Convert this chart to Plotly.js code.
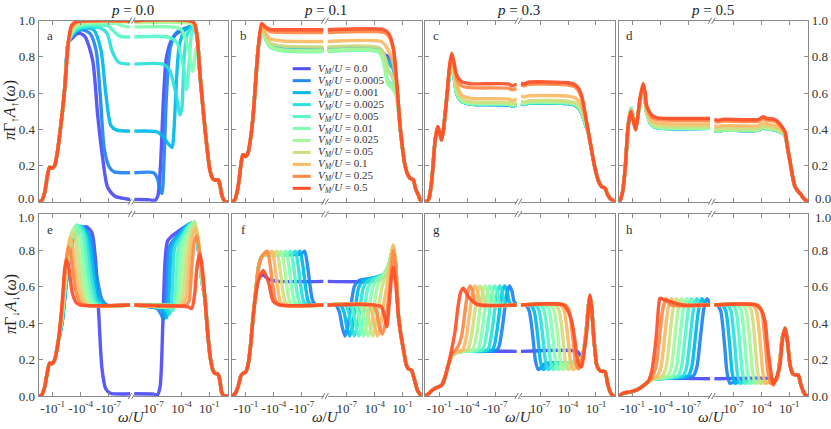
<!DOCTYPE html>
<html><head><meta charset="utf-8">
<script src="https://cdn.plot.ly/plotly-3.0.1.min.js"></script>
<style>html,body{margin:0;padding:0;background:#fff}#chart{width:831px;height:429px}</style>
</head><body><div id="chart"></div>
<script>
// ---- labels ----
const VM = ["0.0","0.0005","0.001","0.0025","0.005","0.01","0.025","0.05","0.1","0.25","0.5"];
const pValues = ["0.0","0.1","0.3","0.5"];
const panelLetters = ["a","b","c","d","e","f","g","h"];
const colors = ["#4d4ffc","#2489f5","#05baea","#2edfdc","#57f7c9","#80ffb4","#a8f79c","#d1df82","#faba65","#ff8947","#ff4f28"];
const xTickVals = [1e-1,1e-4,1e-7];
const xTickNeg = ["-10<sup>-1</sup>","-10<sup>-4</sup>","-10<sup>-7</sup>"];
const xTickPos = ["10<sup>-1</sup>","10<sup>-4</sup>","10<sup>-7</sup>"];
const yTicks = [0,0.2,0.4,0.6,0.8,1.0];
const yTickTextTop = ["","0.2","0.4","0.6","0.8","1.0"];
const yTickTextBottom = ["0.0","0.2","0.4","0.6","0.8",""];

// ---- data: pairs [log10|omega|, value]; L = omega<0 (outer->inner), R = omega>0 (inner->outer) ----
// panel a : p=0.0, spin up
const aEdgeL = [0.5,0, 0.18,0.005, -0.14,0.05, -0.46,0.15, -0.68,0.19, -0.95,0.185, -1.22,0.2, -1.5,0.27, -1.78,0.38, -2.05,0.5, -2.32,0.64, -2.68,0.88];
const aL = [
 [-3.04,0.9, -3.5,0.925, -3.94,0.93, -4.5,0.91, -5.3,0.78, -5.85,0.47, -6.4,0.23, -6.9,0.08, -7.7,0.03, -8.96,0.015, -9.33,0.012],
 [-3.04,0.91, -3.6,0.94, -4.2,0.95, -5.0,0.93, -5.65,0.84, -6.1,0.6, -6.55,0.29, -7.1,0.19, -7.6,0.165, -9.33,0.16],
 [-3.04,0.915, -3.6,0.945, -4.3,0.96, -5.4,0.95, -6.18,0.84, -6.7,0.6, -7.26,0.42, -7.9,0.395, -9.33,0.39],
 [-3.04,0.92, -3.6,0.95, -4.5,0.965, -6.1,0.96, -6.84,0.93, -7.4,0.83, -8.1,0.77, -9.33,0.76],
 [-3.04,0.925, -3.6,0.96, -5,0.975, -7.0,0.97, -7.6,0.94, -8.2,0.915, -9.33,0.91],
 [-3.04,0.93, -3.6,0.97, -5,0.985, -7.8,0.985, -8.5,0.972, -9.33,0.965],
 [-3.04,0.94, -3.6,0.98, -5,0.993, -9.33,0.993],
 [-3.04,0.95, -3.6,0.985, -5,0.997, -9.33,0.997],
 [-3.04,0.96, -3.6,0.99, -5,1, -9.33,1],
 [-3.04,0.965, -3.6,0.993, -5,1, -9.33,1],
 [-3.04,0.975, -3.58,0.995, -5,1, -9.33,1]
];
const aR = [
 [-9.08,0.012, -7.4,0.01, -6.9,0.004, -6.55,0.03, -6.25,0.2, -5.95,0.55, -5.6,0.8, -5.0,0.9, -4.2,0.94, -3.1,0.96, -2.7,0.96, -2.36,0.92],
 [-9.08,0.16, -7.0,0.16, -6.6,0.13, -6.3,0.07, -6.09,0.045, -5.9,0.2, -5.6,0.6, -5.2,0.85, -4.6,0.93, -3.5,0.96, -2.7,0.97, -2.36,0.93],
 [-9.08,0.39, -6.6,0.385, -6.0,0.36, -5.4,0.32, -5.0,0.3, -4.8,0.4, -4.5,0.7, -4.2,0.87, -3.6,0.95, -2.7,0.97, -2.36,0.93],
 [-9.08,0.76, -6.0,0.76, -5.3,0.73, -4.6,0.6, -4.15,0.48, -3.95,0.52, -3.7,0.8, -3.4,0.92, -2.8,0.97, -2.36,0.93],
 [-9.08,0.91, -5.5,0.91, -4.5,0.88, -3.8,0.75, -3.45,0.62, -3.2,0.75, -2.9,0.93, -2.6,0.96, -2.36,0.93],
 [-9.08,0.965, -5.0,0.965, -4.0,0.95, -3.3,0.85, -2.8,0.72, -2.55,0.8, -2.36,0.86],
 [-9.08,0.99, -4.0,0.99, -3.0,0.985, -2.6,0.97, -2.36,0.93],
 [-9.08,0.995, -3.0,0.995, -2.6,0.975, -2.36,0.93],
 [-9.08,1, -2.8,0.995, -2.36,0.93],
 [-9.08,1, -2.75,0.995, -2.36,0.93],
 [-9.08,1, -2.68,0.99, -2.36,0.93]
];
const aEdgeR = [-2.0,0.7, -1.46,0.4, -0.92,0.17, -0.6,0.125, -0.38,0.12, -0.03,0.12, 0.15,0.09, 0.33,0.04, 0.55,0.01, 0.69,0, 1.03,0];

// panel b : p=0.1, spin up
const bEdgeL = [0.5,0, 0.2,0.01, -0.15,0.08, -0.45,0.2, -0.68,0.26, -0.95,0.25, -1.22,0.27, -1.5,0.35, -1.78,0.48, -2.05,0.67, -2.32,0.85];
const bL = [
 [-2.69,0.955, -3.0,0.915, -3.6,0.87, -5.0,0.852, -9.33,0.85],
 [-2.69,0.955, -3.0,0.915, -3.6,0.865, -5.0,0.848, -9.33,0.845],
 [-2.69,0.955, -3.0,0.915, -3.6,0.862, -5.0,0.843, -9.33,0.84],
 [-2.69,0.955, -3.0,0.915, -3.6,0.86, -5.0,0.838, -9.33,0.835],
 [-2.69,0.955, -3.0,0.912, -3.6,0.855, -5.0,0.833, -9.33,0.83],
 [-2.69,0.958, -3.0,0.912, -3.6,0.855, -5.0,0.833, -9.33,0.83],
 [-2.69,0.96, -3.0,0.918, -3.6,0.86, -5.0,0.838, -9.33,0.835],
 [-2.69,0.965, -3.0,0.93, -3.6,0.878, -5.0,0.86, -9.33,0.855],
 [-2.69,0.97, -3.0,0.94, -3.6,0.9, -5.0,0.888, -9.33,0.885],
 [-2.69,0.975, -3.0,0.96, -3.6,0.94, -5.0,0.936, -9.33,0.935],
 [-2.69,0.985, -3.0,0.97, -3.58,0.952, -5.0,0.95, -9.33,0.95]
];
const bR = [
 [-9.08,0.85, -3.5,0.845, -2.9,0.81, -2.4,0.8, -2.0,0.76, -1.63,0.63],
 [-9.08,0.845, -3.5,0.84, -2.9,0.8, -2.4,0.78, -2.0,0.75, -1.63,0.63],
 [-9.08,0.84, -3.5,0.835, -2.9,0.79, -2.4,0.76, -2.0,0.73, -1.63,0.62],
 [-9.08,0.835, -3.5,0.83, -2.9,0.77, -2.5,0.72, -2.1,0.69, -1.63,0.6],
 [-9.08,0.83, -3.5,0.825, -2.9,0.74, -2.6,0.67, -2.2,0.65, -1.9,0.62, -1.63,0.58],
 [-9.08,0.83, -3.5,0.825, -2.9,0.73, -2.6,0.65, -2.2,0.63, -1.9,0.61, -1.63,0.57],
 [-9.08,0.835, -3.5,0.83, -2.9,0.74, -2.6,0.66, -2.2,0.64, -1.9,0.62, -1.63,0.57],
 [-9.08,0.855, -3.5,0.85, -2.9,0.8, -2.5,0.72, -2.1,0.69, -1.63,0.61],
 [-9.08,0.885, -3.3,0.885, -2.8,0.86, -2.4,0.82, -2.0,0.76, -1.63,0.64],
 [-9.08,0.935, -3.0,0.935, -2.5,0.915, -2.0,0.84, -1.63,0.65],
 [-9.08,0.95, -3.0,0.95, -2.5,0.93, -2.0,0.85, -1.63,0.66]
];
const bEdgeR = [-1.28,0.42, -1.0,0.29, -0.74,0.2, -0.45,0.15, -0.2,0.13, 0.15,0.12, 0.4,0.07, 0.69,0.037, 0.9,0.01, 1.03,0];

// panel c : p=0.3, spin up
const cEdgeL = [0.5,0, 0.17,0.01, -0.18,0.11, -0.54,0.33, -0.83,0.415, -1.05,0.38, -1.26,0.34, -1.5,0.42, -1.8,0.57];
const cL = [
 [-2.1,0.71, -2.33,0.77, -2.55,0.71, -2.87,0.6, -3.41,0.555, -4.3,0.54, -8.5,0.535, -8.8,0.528, -9.33,0.535],
 [-2.1,0.71, -2.33,0.77, -2.55,0.71, -2.87,0.6, -3.41,0.555, -4.3,0.54, -8.5,0.535, -8.8,0.528, -9.33,0.535],
 [-2.1,0.71, -2.33,0.77, -2.55,0.71, -2.87,0.6, -3.41,0.555, -4.3,0.54, -8.5,0.535, -8.8,0.528, -9.33,0.535],
 [-2.1,0.71, -2.33,0.77, -2.55,0.71, -2.87,0.6, -3.41,0.556, -4.3,0.541, -8.5,0.536, -8.8,0.529, -9.33,0.536],
 [-2.1,0.71, -2.33,0.77, -2.55,0.71, -2.87,0.6, -3.41,0.556, -4.3,0.541, -8.5,0.537, -8.8,0.53, -9.33,0.537],
 [-2.1,0.715, -2.33,0.772, -2.55,0.715, -2.87,0.605, -3.41,0.558, -4.3,0.543, -8.5,0.539, -8.8,0.532, -9.33,0.539],
 [-2.1,0.72, -2.33,0.775, -2.55,0.72, -2.87,0.61, -3.41,0.56, -4.3,0.546, -8.5,0.542, -8.8,0.534, -9.33,0.542],
 [-2.1,0.72, -2.33,0.78, -2.55,0.73, -2.87,0.62, -3.41,0.57, -4.3,0.552, -8.5,0.548, -8.8,0.54, -9.33,0.548],
 [-2.1,0.73, -2.33,0.8, -2.55,0.75, -2.87,0.65, -3.41,0.59, -4.3,0.572, -8.5,0.567, -8.8,0.558, -9.33,0.567],
 [-2.1,0.74, -2.33,0.81, -2.55,0.77, -2.87,0.68, -3.41,0.64, -4.3,0.63, -8.5,0.626, -8.8,0.618, -9.33,0.626],
 [-2.1,0.75, -2.33,0.82, -2.55,0.78, -2.87,0.7, -3.41,0.663, -4.3,0.652, -8.5,0.65, -8.8,0.64, -9.33,0.65]
];
const cR = [
 [-9.08,0.542, -8.7,0.537, -8.3,0.544, -4.0,0.542, -3.3,0.535, -2.9,0.52, -2.53,0.49, -2.2,0.44, -1.82,0.38],
 [-9.08,0.542, -8.7,0.537, -8.3,0.544, -4.0,0.542, -3.3,0.535, -2.9,0.52, -2.53,0.49, -2.2,0.44, -1.82,0.38],
 [-9.08,0.543, -8.7,0.538, -8.3,0.545, -4.0,0.543, -3.3,0.536, -2.9,0.52, -2.53,0.49, -2.2,0.44, -1.82,0.38],
 [-9.08,0.543, -8.7,0.538, -8.3,0.545, -4.0,0.543, -3.3,0.536, -2.9,0.52, -2.53,0.49, -2.2,0.44, -1.82,0.38],
 [-9.08,0.544, -8.7,0.539, -8.3,0.546, -4.0,0.544, -3.3,0.537, -2.9,0.522, -2.53,0.492, -2.2,0.442, -1.82,0.38],
 [-9.08,0.546, -8.7,0.541, -8.3,0.548, -4.0,0.546, -3.3,0.539, -2.9,0.525, -2.53,0.495, -2.2,0.445, -1.82,0.381],
 [-9.08,0.55, -8.7,0.545, -8.3,0.552, -4.0,0.55, -3.3,0.543, -2.9,0.53, -2.53,0.5, -2.2,0.45, -1.82,0.382],
 [-9.08,0.555, -8.7,0.55, -8.3,0.557, -4.0,0.555, -3.3,0.547, -2.9,0.535, -2.53,0.51, -2.2,0.46, -1.82,0.385],
 [-9.08,0.583, -8.7,0.578, -8.3,0.585, -4.0,0.583, -3.3,0.575, -2.9,0.56, -2.53,0.53, -2.2,0.47, -1.82,0.385],
 [-9.08,0.645, -8.7,0.64, -8.3,0.648, -4.0,0.645, -3.3,0.635, -2.9,0.615, -2.53,0.57, -2.2,0.49, -1.82,0.387],
 [-9.08,0.655, -8.7,0.65, -8.3,0.66, -4.0,0.657, -3.3,0.648, -2.9,0.63, -2.53,0.585, -2.2,0.5, -1.82,0.387]
];
const cEdgeR = [-1.45,0.28, -1.1,0.185, -0.7,0.11, -0.38,0.083, -0.02,0.075, 0.25,0.04, 0.52,0.019, 0.87,0.005, 1.03,0];

// panel d : p=0.5, spin up
const dEdgeL = [0.5,0, 0.37,0.005, 0.1,0.05, -0.17,0.166, -0.53,0.424];
const dL = [
 [-0.82,0.515, -1.05,0.47, -1.32,0.41, -1.55,0.47, -1.78,0.55, -2.14,0.63, -2.35,0.565, -2.5,0.495, -3.04,0.425, -3.6,0.41, -9.33,0.405],
 [-0.82,0.515, -1.05,0.47, -1.32,0.41, -1.55,0.47, -1.78,0.55, -2.14,0.63, -2.35,0.565, -2.5,0.495, -3.04,0.425, -3.6,0.41, -9.33,0.405],
 [-0.82,0.515, -1.05,0.47, -1.32,0.41, -1.55,0.47, -1.78,0.55, -2.14,0.63, -2.35,0.565, -2.5,0.495, -3.04,0.425, -3.6,0.41, -9.33,0.405],
 [-0.82,0.515, -1.05,0.47, -1.32,0.41, -1.55,0.47, -1.78,0.55, -2.14,0.63, -2.35,0.565, -2.5,0.495, -3.04,0.425, -3.6,0.41, -9.33,0.405],
 [-0.82,0.515, -1.05,0.47, -1.32,0.41, -1.55,0.47, -1.78,0.55, -2.14,0.63, -2.35,0.565, -2.5,0.495, -3.04,0.425, -3.6,0.41, -9.33,0.405],
 [-0.82,0.515, -1.05,0.47, -1.32,0.41, -1.55,0.47, -1.78,0.55, -2.14,0.63, -2.35,0.565, -2.5,0.495, -3.04,0.426, -3.6,0.411, -9.33,0.406],
 [-0.82,0.513, -1.05,0.468, -1.32,0.41, -1.55,0.47, -1.78,0.552, -2.14,0.632, -2.35,0.567, -2.5,0.497, -3.04,0.428, -3.6,0.413, -9.33,0.408],
 [-0.82,0.51, -1.05,0.465, -1.32,0.41, -1.55,0.47, -1.78,0.555, -2.14,0.635, -2.35,0.57, -2.5,0.5, -3.04,0.435, -3.6,0.42, -9.33,0.415],
 [-0.82,0.505, -1.05,0.46, -1.32,0.405, -1.55,0.47, -1.78,0.56, -2.14,0.64, -2.35,0.58, -2.5,0.51, -3.04,0.45, -3.6,0.435, -9.33,0.43],
 [-0.82,0.5, -1.05,0.455, -1.32,0.4, -1.55,0.47, -1.78,0.565, -2.14,0.645, -2.35,0.59, -2.5,0.525, -3.04,0.468, -3.6,0.455, -9.33,0.45],
 [-0.82,0.497, -1.05,0.45, -1.32,0.396, -1.55,0.47, -1.78,0.571, -2.14,0.654, -2.35,0.6, -2.5,0.534, -3.04,0.479, -3.6,0.465, -9.33,0.46]
];
const dR = [
 [-9.08,0.395, -8.6,0.39, -8.2,0.395, -4.3,0.395, -3.83,0.41, -3.4,0.402, -2.6,0.397, -2.18,0.39, -1.8,0.38, -1.46,0.365],
 [-9.08,0.395, -8.6,0.39, -8.2,0.395, -4.3,0.395, -3.83,0.41, -3.4,0.402, -2.6,0.397, -2.18,0.39, -1.8,0.38, -1.46,0.365],
 [-9.08,0.395, -8.6,0.39, -8.2,0.395, -4.3,0.395, -3.83,0.41, -3.4,0.402, -2.6,0.397, -2.18,0.39, -1.8,0.38, -1.46,0.365],
 [-9.08,0.395, -8.6,0.39, -8.2,0.395, -4.3,0.395, -3.83,0.41, -3.4,0.402, -2.6,0.397, -2.18,0.39, -1.8,0.38, -1.46,0.365],
 [-9.08,0.395, -8.6,0.39, -8.2,0.395, -4.3,0.395, -3.83,0.41, -3.4,0.402, -2.6,0.397, -2.18,0.39, -1.8,0.38, -1.46,0.365],
 [-9.08,0.396, -8.6,0.391, -8.2,0.396, -4.3,0.396, -3.83,0.411, -3.4,0.403, -2.6,0.398, -2.18,0.391, -1.8,0.381, -1.46,0.366],
 [-9.08,0.398, -8.6,0.393, -8.2,0.398, -4.3,0.398, -3.83,0.413, -3.4,0.405, -2.6,0.4, -2.18,0.393, -1.8,0.382, -1.46,0.367],
 [-9.08,0.405, -8.6,0.4, -8.2,0.405, -4.3,0.405, -3.83,0.42, -3.4,0.412, -2.6,0.405, -2.18,0.398, -1.8,0.385, -1.46,0.37],
 [-9.08,0.42, -8.6,0.415, -8.2,0.42, -4.3,0.42, -3.83,0.435, -3.4,0.428, -2.6,0.42, -2.18,0.41, -1.8,0.395, -1.46,0.375],
 [-9.08,0.445, -8.6,0.44, -8.2,0.445, -4.3,0.445, -3.83,0.46, -3.4,0.45, -2.6,0.445, -2.18,0.43, -1.8,0.41, -1.46,0.382],
 [-9.08,0.455, -8.6,0.45, -8.2,0.455, -4.3,0.455, -3.83,0.47, -3.4,0.46, -2.6,0.455, -2.18,0.44, -1.8,0.415, -1.46,0.387]
];
const dEdgeR = [-1.2,0.3, -0.92,0.22, -0.65,0.14, -0.39,0.083, -0.1,0.06, 0.15,0.046, 0.45,0.025, 0.69,0.01, 1.03,0];

// panel e : p=0.0, spin down
const eEdgeL = [0.5,0, 0.18,0.005, -0.14,0.05, -0.46,0.14, -0.68,0.18, -0.95,0.178, -1.22,0.2, -1.6,0.3];
const eL = [
 [-2.0,0.4, -2.65,0.7, -3.3,0.87, -4.0,0.92, -4.6,0.93, -5.2,0.9, -5.6,0.75, -5.95,0.45, -6.3,0.15, -6.7,0.04, -7.2,0.015, -9.33,0.012],
 [-2.0,0.4, -2.65,0.7, -3.3,0.87, -4.37,0.92, -5.1,0.87, -5.7,0.67, -6.3,0.53, -6.84,0.5, -9.33,0.5],
 [-2.0,0.4, -2.6,0.7, -3.2,0.87, -4.15,0.93, -4.8,0.88, -5.4,0.67, -6.0,0.53, -6.52,0.5, -9.33,0.5],
 [-2.0,0.41, -2.6,0.7, -3.1,0.87, -3.94,0.935, -4.5,0.89, -5.1,0.67, -5.7,0.53, -6.19,0.5, -9.33,0.5],
 [-2.0,0.42, -2.55,0.7, -3.0,0.87, -3.61,0.94, -4.2,0.9, -4.8,0.67, -5.35,0.53, -5.87,0.5, -9.33,0.5],
 [-2.0,0.43, -2.5,0.7, -3.0,0.88, -3.5,0.935, -3.9,0.9, -4.5,0.67, -5.05,0.53, -5.55,0.5, -9.33,0.5],
 [-2.0,0.44, -2.5,0.7, -3.0,0.88, -3.29,0.92, -3.6,0.89, -4.2,0.67, -4.7,0.53, -5.23,0.5, -9.33,0.5],
 [-2.0,0.45, -2.45,0.7, -2.9,0.87, -3.08,0.9, -3.4,0.87, -3.9,0.66, -4.4,0.53, -4.9,0.5, -9.33,0.5],
 [-2.0,0.46, -2.4,0.72, -2.86,0.87, -3.1,0.84, -3.6,0.64, -4.1,0.53, -4.58,0.5, -9.33,0.5],
 [-2.0,0.48, -2.35,0.7, -2.7,0.82, -2.95,0.78, -3.4,0.6, -3.85,0.52, -4.26,0.5, -9.33,0.5],
 [-2.0,0.5, -2.3,0.7, -2.5,0.75, -2.75,0.7, -3.1,0.57, -3.5,0.515, -3.94,0.5, -9.33,0.5]
];
const eR = [
 [-9.08,0.012, -7.0,0.01, -6.6,0.005, -6.3,0.05, -6.0,0.4, -5.75,0.75, -5.5,0.85, -5.0,0.88, -4.2,0.91, -3.3,0.94, -2.75,0.95, -2.4,0.9, -2.0,0.72, -1.75,0.62],
 [-9.08,0.5, -6.6,0.48, -6.2,0.45, -5.9,0.42, -5.6,0.6, -5.3,0.82, -4.5,0.88, -3.3,0.94, -2.75,0.95, -2.4,0.9, -2.0,0.72, -1.75,0.62],
 [-9.08,0.5, -6.3,0.48, -5.9,0.46, -5.6,0.43, -5.3,0.6, -5.0,0.82, -4.2,0.89, -3.3,0.94, -2.75,0.95, -2.4,0.9, -2.0,0.72, -1.75,0.62],
 [-9.08,0.5, -6.0,0.49, -5.6,0.47, -5.25,0.45, -4.95,0.6, -4.7,0.82, -3.9,0.89, -3.2,0.94, -2.75,0.95, -2.4,0.9, -2.0,0.72, -1.75,0.62],
 [-9.08,0.5, -5.6,0.49, -5.2,0.48, -4.9,0.47, -4.6,0.6, -4.3,0.82, -3.6,0.9, -3.1,0.94, -2.75,0.95, -2.4,0.9, -2.0,0.72, -1.75,0.62],
 [-9.08,0.5, -5.2,0.5, -4.8,0.49, -4.4,0.55, -4.0,0.82, -3.4,0.9, -2.7,0.955, -2.35,0.9, -2.0,0.72, -1.75,0.62],
 [-9.08,0.5, -4.5,0.5, -4.1,0.58, -3.7,0.82, -3.1,0.91, -2.6,0.96, -2.25,0.88, -2.0,0.74, -1.75,0.63],
 [-9.08,0.5, -4.2,0.5, -3.8,0.57, -3.4,0.8, -2.9,0.91, -2.55,0.95, -2.2,0.86, -1.9,0.72, -1.75,0.64],
 [-9.08,0.5, -3.9,0.5, -3.5,0.55, -3.1,0.78, -2.7,0.9, -2.45,0.92, -2.1,0.82, -1.75,0.66],
 [-9.08,0.5, -3.5,0.5, -3.2,0.52, -2.9,0.7, -2.6,0.85, -2.35,0.88, -2.05,0.78, -1.75,0.66],
 [-9.08,0.5, -3.3,0.49, -2.9,0.48, -2.6,0.55, -2.3,0.72, -2.0,0.78, -1.75,0.7]
];
const eEdgeR = [-1.46,0.53, -1.2,0.36, -0.92,0.22, -0.6,0.14, -0.39,0.125, -0.06,0.12, 0.15,0.08, 0.33,0.02, 0.55,0.003, 0.69,0, 1.03,0];

// panel f : p=0.1, spin down
const fEdgeL = [0.5,0, 0.2,0.01, -0.15,0.05, -0.45,0.11, -0.68,0.125, -0.95,0.13, -1.22,0.17, -1.5,0.28, -1.78,0.44];
const fL = [
 [-2.1,0.58, -2.4,0.65, -2.8,0.665, -3.5,0.64, -4.5,0.63, -9.33,0.63],
 [-2.1,0.6, -2.4,0.72, -2.75,0.77, -6.9,0.78, -7.3,0.795, -7.6,0.72, -7.9,0.6, -8.2,0.52, -8.6,0.5, -9.33,0.5],
 [-2.1,0.6, -2.4,0.72, -2.75,0.77, -6.4,0.78, -6.8,0.795, -7.1,0.72, -7.4,0.6, -7.7,0.52, -8.1,0.5, -9.33,0.5],
 [-2.1,0.6, -2.4,0.72, -2.75,0.77, -5.9,0.78, -6.3,0.795, -6.6,0.72, -6.9,0.6, -7.2,0.52, -7.6,0.5, -9.33,0.5],
 [-2.1,0.6, -2.4,0.72, -2.75,0.77, -5.4,0.78, -5.8,0.795, -6.1,0.72, -6.4,0.6, -6.7,0.52, -7.1,0.5, -9.33,0.5],
 [-2.1,0.6, -2.4,0.72, -2.75,0.77, -4.9,0.78, -5.3,0.795, -5.6,0.72, -5.9,0.6, -6.2,0.52, -6.6,0.5, -9.33,0.5],
 [-2.1,0.6, -2.4,0.72, -2.75,0.77, -4.4,0.78, -4.8,0.795, -5.1,0.72, -5.4,0.6, -5.7,0.52, -6.1,0.5, -9.33,0.5],
 [-2.1,0.6, -2.4,0.72, -2.75,0.77, -3.9,0.78, -4.3,0.795, -4.6,0.72, -4.9,0.6, -5.2,0.52, -5.6,0.5, -9.33,0.5],
 [-2.1,0.6, -2.4,0.72, -2.75,0.77, -3.4,0.78, -3.8,0.795, -4.1,0.72, -4.4,0.6, -4.7,0.52, -5.1,0.5, -9.33,0.5],
 [-2.1,0.6, -2.4,0.72, -2.9,0.78, -3.3,0.795, -3.6,0.72, -3.9,0.6, -4.2,0.52, -4.6,0.5, -9.33,0.5],
 [-2.32,0.63, -2.86,0.69, -3.4,0.63, -3.94,0.52, -4.66,0.5, -9.33,0.5]
];
const fR = [
 [-9.08,0.63, -4.2,0.63, -3.5,0.64, -2.8,0.67, -2.4,0.73, -2.2,0.78, -2.0,0.82, -1.75,0.72],
 [-9.08,0.5, -8.2,0.5, -7.8,0.46, -7.5,0.38, -7.2,0.33, -6.9,0.38, -6.55,0.5, -6.2,0.6, -5.7,0.635, -4.0,0.65, -3.0,0.67, -2.5,0.72, -2.2,0.78, -2.0,0.82, -1.75,0.72],
 [-9.08,0.5, -7.7,0.5, -7.3,0.46, -7.0,0.38, -6.7,0.33, -6.4,0.38, -6.05,0.5, -5.7,0.6, -5.2,0.635, -4.0,0.65, -3.0,0.67, -2.5,0.72, -2.2,0.78, -2.0,0.82, -1.75,0.72],
 [-9.08,0.5, -7.2,0.5, -6.8,0.46, -6.5,0.38, -6.2,0.33, -5.9,0.38, -5.55,0.5, -5.2,0.6, -4.7,0.635, -3.0,0.67, -2.5,0.72, -2.2,0.78, -2.0,0.82, -1.75,0.72],
 [-9.08,0.5, -6.7,0.5, -6.3,0.46, -6.0,0.38, -5.7,0.33, -5.4,0.38, -5.05,0.5, -4.7,0.6, -4.2,0.635, -3.0,0.67, -2.5,0.72, -2.2,0.78, -2.0,0.82, -1.75,0.72],
 [-9.08,0.5, -6.2,0.5, -5.8,0.46, -5.5,0.38, -5.2,0.33, -4.9,0.38, -4.55,0.5, -4.2,0.6, -3.7,0.64, -3.0,0.67, -2.5,0.72, -2.2,0.78, -2.0,0.82, -1.75,0.72],
 [-9.08,0.5, -5.7,0.5, -5.3,0.46, -5.0,0.38, -4.7,0.33, -4.4,0.38, -4.05,0.5, -3.7,0.6, -3.2,0.65, -2.7,0.7, -2.3,0.76, -2.0,0.825, -1.75,0.73],
 [-9.08,0.5, -5.2,0.5, -4.8,0.46, -4.5,0.38, -4.2,0.33, -3.9,0.38, -3.55,0.5, -3.2,0.6, -2.7,0.67, -2.3,0.75, -2.0,0.83, -1.75,0.73],
 [-9.08,0.5, -4.7,0.5, -4.3,0.46, -4.0,0.38, -3.7,0.33, -3.4,0.38, -3.05,0.5, -2.7,0.6, -2.35,0.7, -2.0,0.83, -1.75,0.73],
 [-9.08,0.5, -4.2,0.5, -3.8,0.46, -3.5,0.38, -3.2,0.34, -2.9,0.39, -2.6,0.5, -2.3,0.64, -2.0,0.8, -1.75,0.72],
 [-9.08,0.5, -4.0,0.5, -3.3,0.49, -2.95,0.44, -2.7,0.38, -2.45,0.5, -2.2,0.65, -2.0,0.71, -1.75,0.62]
];
const fEdgeR = [-1.46,0.445, -1.2,0.34, -0.92,0.26, -0.6,0.17, -0.38,0.15, -0.02,0.14, 0.15,0.11, 0.33,0.08, 0.6,0.03, 0.87,0.01, 1.03,0];

// panel g : p=0.3, spin down
const gEdgeL = [0.5,0, 0.2,0.01, -0.2,0.03, -0.54,0.042, -1.26,0.06, -1.6,0.1, -1.97,0.17];
const gL = [
 [-2.35,0.22, -2.8,0.238, -3.5,0.245, -9.33,0.245],
 [-2.35,0.22, -2.8,0.238, -3.5,0.245, -7.24,0.255, -7.64,0.33, -8.04,0.48, -8.34,0.58, -8.54,0.605, -8.79,0.58, -9.04,0.52, -9.33,0.505],
 [-2.35,0.22, -2.8,0.238, -3.5,0.245, -6.71,0.255, -7.11,0.33, -7.51,0.48, -7.81,0.58, -8.01,0.605, -8.26,0.58, -8.51,0.52, -8.81,0.5, -9.33,0.5],
 [-2.35,0.22, -2.8,0.238, -3.5,0.245, -6.18,0.255, -6.58,0.33, -6.98,0.48, -7.28,0.58, -7.48,0.605, -7.73,0.58, -7.98,0.52, -8.28,0.5, -9.33,0.5],
 [-2.35,0.22, -2.8,0.238, -3.5,0.245, -5.65,0.255, -6.05,0.33, -6.45,0.48, -6.75,0.58, -6.95,0.605, -7.2,0.58, -7.45,0.52, -7.75,0.5, -9.33,0.5],
 [-2.35,0.22, -2.8,0.238, -3.5,0.245, -5.12,0.255, -5.52,0.33, -5.92,0.48, -6.22,0.58, -6.42,0.605, -6.67,0.58, -6.92,0.52, -7.22,0.5, -9.33,0.5],
 [-2.35,0.22, -2.8,0.238, -3.5,0.246, -4.59,0.255, -4.99,0.33, -5.39,0.48, -5.69,0.58, -5.89,0.605, -6.14,0.58, -6.39,0.52, -6.69,0.5, -9.33,0.5],
 [-2.35,0.22, -2.8,0.238, -3.5,0.247, -4.06,0.255, -4.46,0.33, -4.86,0.48, -5.16,0.58, -5.36,0.605, -5.61,0.58, -5.86,0.52, -6.16,0.5, -9.33,0.5],
 [-2.35,0.22, -2.8,0.24, -3.53,0.255, -3.93,0.33, -4.33,0.48, -4.63,0.58, -4.83,0.605, -5.08,0.58, -5.33,0.52, -5.63,0.5, -9.33,0.5],
 [-2.35,0.23, -2.7,0.25, -3.0,0.27, -3.4,0.33, -3.8,0.48, -4.1,0.58, -4.3,0.605, -4.55,0.58, -4.8,0.52, -5.1,0.5, -9.33,0.5],
 [-2.35,0.26, -2.69,0.353, -3.04,0.5, -3.3,0.57, -3.58,0.592, -4.12,0.546, -4.84,0.51, -5.5,0.5, -9.33,0.5]
];
const gR = [
 [-9.08,0.245, -3.0,0.245, -2.7,0.225, -2.45,0.21, -2.2,0.28, -2.0,0.38, -1.8,0.5, -1.63,0.55, -1.45,0.48],
 [-9.08,0.5, -8.59,0.5, -8.19,0.47, -7.79,0.33, -7.49,0.19, -7.19,0.145, -6.84,0.16, -6.39,0.18, -2.7,0.19, -2.35,0.24, -2.0,0.38, -1.8,0.5, -1.63,0.55, -1.45,0.48],
 [-9.08,0.5, -8.06,0.5, -7.66,0.47, -7.26,0.33, -6.96,0.19, -6.66,0.145, -6.31,0.16, -5.86,0.18, -2.7,0.19, -2.35,0.24, -2.0,0.38, -1.8,0.5, -1.63,0.55, -1.45,0.48],
 [-9.08,0.5, -7.52,0.5, -7.12,0.47, -6.72,0.33, -6.42,0.19, -6.12,0.145, -5.77,0.16, -5.32,0.18, -2.7,0.19, -2.35,0.24, -2.0,0.38, -1.8,0.5, -1.63,0.55, -1.45,0.48],
 [-9.08,0.5, -6.98,0.5, -6.58,0.47, -6.18,0.33, -5.88,0.19, -5.58,0.145, -5.23,0.16, -4.78,0.18, -2.7,0.19, -2.35,0.24, -2.0,0.38, -1.8,0.5, -1.63,0.55, -1.45,0.48],
 [-9.08,0.5, -6.44,0.5, -6.04,0.47, -5.64,0.33, -5.34,0.19, -5.04,0.145, -4.69,0.16, -4.24,0.18, -2.7,0.19, -2.35,0.24, -2.0,0.38, -1.8,0.5, -1.63,0.55, -1.45,0.48],
 [-9.08,0.5, -5.9,0.5, -5.5,0.47, -5.1,0.33, -4.8,0.19, -4.5,0.145, -4.15,0.16, -3.7,0.18, -2.7,0.19, -2.35,0.24, -2.0,0.38, -1.8,0.5, -1.63,0.55, -1.45,0.48],
 [-9.08,0.5, -5.37,0.5, -4.97,0.47, -4.57,0.33, -4.27,0.19, -3.97,0.145, -3.62,0.16, -3.17,0.18, -2.7,0.19, -2.35,0.24, -2.0,0.38, -1.8,0.5, -1.63,0.55, -1.45,0.48],
 [-9.08,0.5, -4.83,0.5, -4.43,0.47, -4.03,0.33, -3.73,0.19, -3.43,0.145, -3.08,0.16, -2.7,0.18, -2.35,0.24, -2.0,0.38, -1.8,0.5, -1.63,0.55, -1.45,0.48],
 [-9.08,0.5, -4.3,0.5, -3.9,0.47, -3.5,0.33, -3.2,0.19, -2.89,0.15, -2.6,0.17, -2.3,0.25, -2.0,0.38, -1.8,0.5, -1.63,0.55, -1.45,0.48],
 [-9.08,0.5, -4.5,0.5, -3.95,0.46, -3.6,0.41, -3.3,0.32, -3.06,0.225, -2.8,0.17, -2.53,0.161, -2.25,0.25, -1.99,0.353, -1.8,0.48, -1.63,0.555, -1.45,0.48]
];
const gEdgeR = [-1.28,0.353, -1.1,0.25, -0.91,0.17, -0.6,0.14, -0.3,0.135, -0.02,0.134, 0.25,0.07, 0.52,0.024, 0.84,0, 1.03,0];

// panel h : p=0.5, spin down
const hEdgeL = [0.5,0, 0.3,0.005, 0,0.015, -0.89,0.024, -1.5,0.035, -1.97,0.05, -2.6,0.075];
const hL = [
 [-3.04,0.09, -3.5,0.095, -9.33,0.095],
 [-3.04,0.09, -3.5,0.095, -7.5,0.11, -7.9,0.16, -8.3,0.33, -8.65,0.48, -9.0,0.535, -9.2,0.52, -9.33,0.515],
 [-3.04,0.09, -3.5,0.095, -6.95,0.11, -7.35,0.16, -7.75,0.33, -8.1,0.48, -8.45,0.535, -8.7,0.515, -8.95,0.5, -9.33,0.5],
 [-3.04,0.09, -3.5,0.095, -6.4,0.11, -6.8,0.16, -7.2,0.33, -7.55,0.48, -7.9,0.535, -8.15,0.515, -8.4,0.5, -9.33,0.5],
 [-3.04,0.09, -3.5,0.095, -5.85,0.11, -6.25,0.16, -6.65,0.33, -7.0,0.48, -7.35,0.535, -7.6,0.515, -7.85,0.5, -9.33,0.5],
 [-3.04,0.09, -3.5,0.095, -5.3,0.11, -5.7,0.16, -6.1,0.33, -6.45,0.48, -6.8,0.535, -7.05,0.515, -7.3,0.5, -9.33,0.5],
 [-3.04,0.09, -3.5,0.096, -4.75,0.11, -5.15,0.16, -5.55,0.33, -5.9,0.48, -6.25,0.535, -6.5,0.515, -6.75,0.5, -9.33,0.5],
 [-3.04,0.09, -3.5,0.097, -4.2,0.11, -4.6,0.16, -5.0,0.33, -5.35,0.48, -5.7,0.535, -5.95,0.515, -6.2,0.5, -9.33,0.5],
 [-3.04,0.092, -3.65,0.11, -4.05,0.16, -4.45,0.33, -4.8,0.48, -5.15,0.535, -5.4,0.515, -5.65,0.5, -9.33,0.5],
 [-3.04,0.1, -3.5,0.16, -3.9,0.33, -4.25,0.48, -4.6,0.535, -4.85,0.515, -5.1,0.5, -9.33,0.5],
 [-3.04,0.134, -3.3,0.22, -3.58,0.353, -3.8,0.5, -3.94,0.537, -4.47,0.527, -5.55,0.51, -6.5,0.5, -9.33,0.5]
];
const hR = [
 [-9.08,0.095, -3.0,0.095, -2.6,0.085, -2.3,0.1, -2.0,0.2, -1.75,0.32, -1.46,0.372, -1.2,0.3],
 [-9.08,0.5, -8.8,0.5, -8.4,0.47, -8.0,0.3, -7.7,0.13, -7.4,0.07, -7.0,0.075, -6.5,0.08, -2.6,0.08, -2.3,0.1, -2.0,0.2, -1.75,0.32, -1.46,0.372, -1.2,0.3],
 [-9.08,0.5, -8.25,0.5, -7.85,0.47, -7.45,0.3, -7.15,0.13, -6.85,0.07, -6.45,0.075, -5.95,0.08, -2.6,0.08, -2.3,0.1, -2.0,0.2, -1.75,0.32, -1.46,0.372, -1.2,0.3],
 [-9.08,0.5, -7.7,0.5, -7.3,0.47, -6.9,0.3, -6.6,0.13, -6.3,0.07, -5.9,0.075, -5.4,0.08, -2.6,0.08, -2.3,0.1, -2.0,0.2, -1.75,0.32, -1.46,0.372, -1.2,0.3],
 [-9.08,0.5, -7.15,0.5, -6.75,0.47, -6.35,0.3, -6.05,0.13, -5.75,0.07, -5.35,0.075, -4.85,0.08, -2.6,0.08, -2.3,0.1, -2.0,0.2, -1.75,0.32, -1.46,0.372, -1.2,0.3],
 [-9.08,0.5, -6.6,0.5, -6.2,0.47, -5.8,0.3, -5.5,0.13, -5.2,0.07, -4.8,0.075, -4.3,0.08, -2.6,0.08, -2.3,0.1, -2.0,0.2, -1.75,0.32, -1.46,0.372, -1.2,0.3],
 [-9.08,0.5, -6.05,0.5, -5.65,0.47, -5.25,0.3, -4.95,0.13, -4.65,0.07, -4.25,0.075, -3.75,0.08, -2.6,0.08, -2.3,0.1, -2.0,0.2, -1.75,0.32, -1.46,0.372, -1.2,0.3],
 [-9.08,0.5, -5.5,0.5, -5.1,0.47, -4.7,0.3, -4.4,0.13, -4.1,0.07, -3.7,0.075, -3.2,0.08, -2.6,0.08, -2.3,0.1, -2.0,0.2, -1.75,0.32, -1.46,0.372, -1.2,0.3],
 [-9.08,0.5, -4.95,0.5, -4.55,0.47, -4.15,0.3, -3.85,0.13, -3.55,0.07, -3.15,0.075, -2.65,0.08, -2.3,0.1, -2.0,0.2, -1.75,0.32, -1.46,0.372, -1.2,0.3],
 [-9.08,0.5, -4.4,0.5, -4.0,0.47, -3.6,0.3, -3.3,0.13, -3.0,0.07, -2.6,0.075, -2.3,0.1, -2.0,0.2, -1.75,0.32, -1.46,0.372, -1.2,0.3],
 [-9.08,0.5, -4.6,0.5, -4.0,0.47, -3.61,0.41, -3.35,0.28, -3.08,0.17, -2.72,0.06, -2.4,0.1, -2.0,0.17, -1.75,0.3, -1.46,0.372, -1.2,0.3]
];
const hEdgeR = [-0.92,0.17, -0.6,0.12, -0.3,0.115, -0.03,0.115, 0.2,0.07, 0.51,0.024, 0.8,0.003, 1.03,0];

// ---- assemble ----
const panels = [
 {eL:aEdgeL, L:aL, R:aR, eR:aEdgeR}, {eL:bEdgeL, L:bL, R:bR, eR:bEdgeR},
 {eL:cEdgeL, L:cL, R:cR, eR:cEdgeR}, {eL:dEdgeL, L:dL, R:dR, eR:dEdgeR},
 {eL:eEdgeL, L:eL, R:eR, eR:eEdgeR}, {eL:fEdgeL, L:fL, R:fR, eR:fEdgeR},
 {eL:gEdgeL, L:gL, R:gR, eR:gEdgeR}, {eL:hEdgeL, L:hL, R:hR, eR:hEdgeR}
];
function toXY(flat){ const x=[],y=[]; for(let i=0;i<flat.length;i+=2){ x.push(Math.pow(10,flat[i])); y.push(flat[i+1]); } return {x,y}; }

const W=831, H=429;
const panelLeft=[38.7,232,425.3,618.7];
const rowTop=[20.7,214], rowBot=[201.7,396];
const FONT="'Liberation Serif', 'Times New Roman', serif";
const AX='#8a8a8a';
const TICKFONT={family:FONT,size:13,color:'#333'};
const traces=[]; const layout={width:W,height:H,margin:{l:0,r:0,t:0,b:0},paper_bgcolor:'#fff',plot_bgcolor:'rgba(0,0,0,0)',showlegend:false,font:{family:FONT,color:'#333'},annotations:[],shapes:[]};
const fx=px=>px/W, fy=py=>1-py/H;

panels.forEach((P,i)=>{
  const col=i%4, row=i<4?0:1, L=panelLeft[col];
  for(let h=0;h<2;h++){
    const n=i*2+h+1, xs=n===1?'':String(n);
    const x0=h===0?L:L+95.5, x1=h===0?L+91.5:L+189.5;
    layout['xaxis'+xs]={domain:[fx(x0),fx(x1)],type:'log',range:h===0?[0.5,-9.33]:[-9.08,1.03],anchor:'y'+xs,
      showline:true,linecolor:AX,linewidth:1,mirror:'ticks',ticks:'inside',ticklen:4,tickcolor:AX,
      tickvals:xTickVals,ticktext:h===0?xTickNeg:xTickPos,showticklabels:row===1,showgrid:false,zeroline:false,
      tickfont:TICKFONT};
    layout['yaxis'+xs]={domain:[fy(rowBot[row]),fy(rowTop[row])],range:[0,1],anchor:'x'+xs,side:h===0?'left':'right',
      showline:true,linecolor:AX,linewidth:1,mirror:false,ticks:'inside',ticklen:4,tickcolor:AX,
      tickvals:yTicks,ticktext:row===0?yTickTextTop:yTickTextBottom,showticklabels:(h===0&&col===0)||(h===1&&col===3),showgrid:false,zeroline:false,
      tickfont:TICKFONT};
    for(let s=0;s<11;s++){
      const flat=h===0?P.eL.concat(P.L[s]):P.R[s].concat(P.eR);
      const d=toXY(flat);
      traces.push({type:'scatter',mode:'lines',x:d.x,y:d.y,xaxis:'x'+xs,yaxis:'y'+xs,
        line:{color:colors[s],width:3.4,shape:'spline',smoothing:0.7},opacity:0.92,hoverinfo:'skip',name:'V_M/U = '+VM[s]});
    }
  }
  // break marks
  const cx=L+93.5;
  [rowTop[row],rowBot[row]].forEach(cy=>{
    [-2,1.5].forEach(d=>{
      layout.shapes.push({type:'line',xref:'paper',yref:'paper',x0:fx(cx+d-2),y0:fy(cy+3),x1:fx(cx+d+1.5),y1:fy(cy-3),line:{color:'#777',width:1}});
    });
  });
  layout.annotations.push({text:panelLetters[i],xref:'paper',yref:'paper',x:fx(L+11),y:fy(row===0?35:229),showarrow:false,xanchor:'center',yanchor:'middle',font:{family:FONT,size:13,color:'#333'}});
  if(row===0) layout.annotations.push({text:'<i>p</i> = '+pValues[col],xref:'paper',yref:'paper',x:fx(L+93.5),y:fy(10),showarrow:false,xanchor:'center',yanchor:'middle',font:{family:FONT,size:15,color:'#222'}});
  if(row===1) layout.annotations.push({text:'<i>ω</i>/<i>U</i>',xref:'paper',yref:'paper',x:fx(L+93),y:fy(417),showarrow:false,xanchor:'center',yanchor:'middle',font:{family:FONT,size:15,color:'#222'}});
});
// the two row-boundary tick labels, nudged apart so they do not collide
[[35.5,'right'],[812.5,'left']].forEach(([px,anc])=>{
  layout.annotations.push({text:'0.0',xref:'paper',yref:'paper',x:fx(px),y:fy(198.5),showarrow:false,xanchor:anc,yanchor:'middle',font:TICKFONT});
  layout.annotations.push({text:'1.0',xref:'paper',yref:'paper',x:fx(px),y:fy(217.5),showarrow:false,xanchor:anc,yanchor:'middle',font:TICKFONT});
});
layout.annotations.push({text:'<i>π</i>Γ<sub>↑</sub><i>A</i><sub>↑</sub>(<i>ω</i>)',xref:'paper',yref:'paper',x:fx(11),y:fy(110),textangle:-90,showarrow:false,xanchor:'center',yanchor:'middle',font:{family:FONT,size:16,color:'#222'}});
layout.annotations.push({text:'<i>π</i>Γ<sub>↓</sub><i>A</i><sub>↓</sub>(<i>ω</i>)',xref:'paper',yref:'paper',x:fx(11),y:fy(304),textangle:-90,showarrow:false,xanchor:'center',yanchor:'middle',font:{family:FONT,size:16,color:'#222'}});
// legend (drawn manually in panel b)
VM.forEach((v,s)=>{
  const py=68.7+11.96*s;
  layout.shapes.push({type:'line',xref:'paper',yref:'paper',x0:fx(292.7),x1:fx(310.7),y0:fy(py),y1:fy(py),line:{color:colors[s],width:3}});
  layout.annotations.push({text:'<i>V</i><sub><i>M</i></sub>/<i>U</i> = '+v,xref:'paper',yref:'paper',x:fx(316),y:fy(py),showarrow:false,xanchor:'left',yanchor:'middle',font:{family:FONT,size:11,color:'#333'}});
});
Plotly.newPlot('chart',traces,layout,{displayModeBar:false,responsive:false});
</script></body></html>
